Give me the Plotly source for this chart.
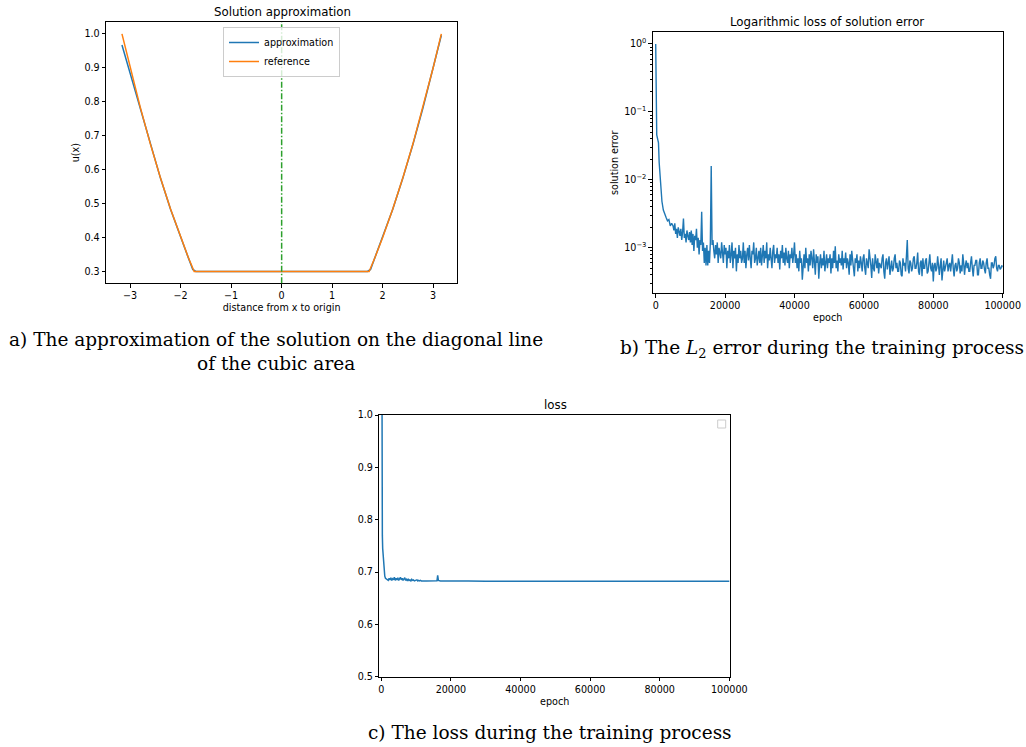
import plotly.graph_objects as go

# ---------------- data: (a) solution on the diagonal ----------------
ref_x = [-3.162, -3.0, -2.8, -2.6, -2.4, -2.2, -2.0, -1.85, -1.732,
         1.732, 1.85, 2.0, 2.2, 2.4, 2.6, 2.8, 3.0, 3.162]
ref_u = [1.0, 0.9, 0.784, 0.676, 0.576, 0.484, 0.4, 0.342, 0.3,
         0.3, 0.342, 0.4, 0.484, 0.576, 0.676, 0.784, 0.9, 1.0]

apx_x = [-3.162, -3.0, -2.8, -2.6, -2.4, -2.2, -2.0, -1.85, -1.76, -1.70,
         0.0, 1.70, 1.76, 1.85, 2.0, 2.2, 2.4, 2.6, 2.8, 3.0, 3.162]
apx_u = [0.967, 0.884, 0.778, 0.674, 0.575, 0.483, 0.399, 0.341, 0.306, 0.300,
         0.300, 0.300, 0.306, 0.342, 0.399, 0.483, 0.575, 0.675, 0.783, 0.898, 0.996]

# ---------------- data: (b) L2 solution error ----------------
err_epoch_early = [0, 100, 300, 500, 800, 1000, 1200, 1500, 1800, 2200, 2600,
                   3000, 3400, 3800, 4200, 4600]
err_early = [1.0, 0.15, 0.046, 0.041, 0.035, 0.018, 0.0118, 0.0065, 0.0048,
             0.0036, 0.0031, 0.0028, 0.0025, 0.0026, 0.0021, 0.0023]
err_epoch_late = list(range(5000, 100001, 250))
# values in units of 1e-4, one every 250 epochs
err_late_e4 = [
    21, 18, 23, 16, 19, 14, 20, 17, 15, 19, 13, 17, 27, 14, 16, 12, 18, 15, 13, 17,
    12, 18, 11, 16, 9, 15, 13, 19, 10, 14, 8, 13, 11, 34, 9, 12, 6, 10, 5.5, 11,
    5.5, 9, 6, 12, 160, 11, 13, 9, 7, 11, 8, 12, 6, 10, 8, 7, 12, 9, 6, 11,
    8, 10, 5, 9, 7, 11, 6, 8, 12, 5, 9, 7, 10, 4.5, 8, 6, 11, 7, 9, 6,
    7, 12, 6, 9, 5, 8, 10, 6.5, 11, 7, 5, 9, 8, 12, 6, 7, 10, 5.5, 8, 9,
    6, 10, 5.5, 8, 11, 6, 9, 7, 12, 5, 8, 6.5, 10, 7, 5, 9, 11, 6, 8, 7,
    10, 6, 8, 4.8, 9, 7, 11, 6, 8.5, 5.5, 10, 7, 6, 9, 5, 8, 7, 10, 6, 8,
    12, 6, 8, 5, 7, 4.5, 9, 6, 7, 3.4, 6.5, 8, 5, 10, 6, 7, 4.5, 8, 5.5, 9,
    7, 5, 9.5, 6, 4, 8, 6, 7.5, 3.5, 6, 8, 5, 7, 5.5, 9, 4.5, 6, 8, 5, 7,
    6, 8, 4.2, 7, 5, 9, 6, 10.5, 5, 6.5, 4.5, 8, 6, 7, 5.5, 9, 4.8, 7, 6, 8.5,
    5, 7, 6, 4, 8, 5.5, 9, 6, 5, 3.8, 7, 6, 8, 4.5, 6.5, 5, 7.5, 6, 4.5, 7,
    8, 5, 4, 7, 6, 5, 9.5, 6, 5.5, 3.6, 7, 5, 4.5, 8, 6, 5, 7, 4.2, 6, 5.5,
    5, 7, 8, 4.5, 3.5, 6, 7, 4.8, 6, 7.5, 4, 5.5, 6.5, 4.5, 5, 7, 8, 5, 6, 4.5,
    4.5, 6.5, 6, 4, 3.8, 7, 5.5, 6, 4.5, 7.5, 13, 5, 4.2, 6.5, 6, 4.5, 5, 7, 7.5, 5,
    5, 6, 8.5, 4.5, 4, 6, 6.5, 3.8, 7, 5, 5, 6.5, 7, 4.2, 4.5, 6, 8, 5, 4.5, 6,
    3.2, 5.5, 6, 4.5, 5, 7.5, 6, 4, 5.5, 7, 3.3, 5, 6.5, 4.5, 5, 6, 7, 4.5, 5.5, 6,
    4.5, 6, 8, 5, 3.8, 5.5, 6, 4.5, 5, 7, 6, 4.2, 5.5, 4.5, 8, 6, 4, 5.5, 6.5, 5,
    6, 4.5, 4.5, 6, 7.5, 5, 3.8, 5.5, 5.5, 6.5, 6.5, 4, 4, 6, 7, 5, 5, 6.5, 6, 4.8,
    4.2, 6, 7, 5, 5, 4, 3.5, 6, 6, 5, 5.5, 7, 7.5, 5, 4.5, 5.5, 5.5, 4.8, 5, 5.5,
    5.2,
]
err_epoch = err_epoch_early + err_epoch_late
err_vals = err_early + [v * 1e-4 for v in err_late_e4]

# ---------------- data: (c) training loss ----------------
loss_epoch_early = [0, 100, 200, 300, 400, 600, 800, 1000, 1200, 1500]
loss_early = [1.6, 1.05, 0.85, 0.77, 0.745, 0.72, 0.70, 0.692, 0.688, 0.686]
loss_epoch_mid = list(range(2000, 12001, 250))
loss_mid = [0.684, 0.688, 0.685, 0.689, 0.684, 0.687, 0.685, 0.690, 0.684, 0.688,
            0.685, 0.689, 0.684, 0.687, 0.690, 0.685, 0.688, 0.684, 0.686, 0.689,
            0.684, 0.686, 0.683, 0.687, 0.684, 0.685, 0.683, 0.686, 0.684, 0.685,
            0.683, 0.684, 0.6835, 0.685, 0.683, 0.684, 0.6832, 0.684, 0.683, 0.6835, 0.683]
loss_epoch_late = [13000, 14000, 15000, 16000, 16200, 16400, 17000, 18000, 20000,
                   25000, 30000, 40000, 50000, 60000, 70000, 80000, 90000, 100000]
loss_late = [0.6830, 0.6832, 0.6829, 0.6831, 0.6935, 0.6840, 0.6830, 0.6828, 0.6827,
             0.6828, 0.6826, 0.6826, 0.6825, 0.6825, 0.6825, 0.6825, 0.6825, 0.6825]
loss_epoch = loss_epoch_early + loss_epoch_mid + loss_epoch_late
loss_vals = loss_early + loss_mid + loss_late

# ---------------- text ----------------
titles = ["Solution approximation", "Logarithmic loss of solution error", "loss"]
captions = ["a) The approximation of the solution on the diagonal line<br>of the cubic area",
            "b) The <i>L</i><sub>2</sub> error during the training process",
            "c) The loss during the training process"]
log_tickvals = [1, 0.1, 0.01, 0.001]
log_ticktext = ["10<sup>0</sup>", "10<sup>\u22121</sup>", "10<sup>\u22122</sup>", "10<sup>\u22123</sup>"]

BLUE = "#1f77b4"
ORANGE = "#ff7f0e"
GREEN = "#2ca02c"
W, H = 1026, 747
TICKFONT = dict(family="DejaVu Sans", size=9.6, color="black")
SANS = "DejaVu Sans"
SERIF = "DejaVu Serif"

fig = go.Figure()
fig.add_trace(go.Scatter(x=apx_x, y=apx_u, mode="lines", name="approximation",
                         line=dict(color=BLUE, width=1.5), xaxis="x", yaxis="y"))
fig.add_trace(go.Scatter(x=ref_x, y=ref_u, mode="lines", name="reference",
                         line=dict(color=ORANGE, width=1.5), xaxis="x", yaxis="y"))
fig.add_trace(go.Scatter(x=err_epoch, y=err_vals, mode="lines", showlegend=False,
                         line=dict(color=BLUE, width=1.4), xaxis="x2", yaxis="y2"))
fig.add_trace(go.Scatter(x=loss_epoch, y=loss_vals, mode="lines", showlegend=False,
                         line=dict(color=BLUE, width=1.5), xaxis="x3", yaxis="y3"))


def ax(**kw):
    base = dict(showline=True, linecolor="black", linewidth=0.8, mirror=True,
                ticks="outside", ticklen=3.5, tickwidth=0.8, tickcolor="black",
                showgrid=False, zeroline=False, tickfont=TICKFONT, automargin=False)
    base.update(kw)
    return base


def px_x(p):
    return p / W


def px_y(p):
    return 1 - p / H


fig.update_layout(
    width=W, height=H, margin=dict(l=0, r=0, t=0, b=0, autoexpand=False),
    paper_bgcolor="white", plot_bgcolor="white",
    font=dict(family=SANS, color="black"),
    xaxis=ax(domain=[px_x(106), px_x(457.3)], range=[-3.478, 3.478], anchor="y",
             tickvals=[-3, -2, -1, 0, 1, 2, 3],
             title=dict(text="distance from x to origin", font=dict(size=9.6), standoff=4)),
    yaxis=ax(domain=[px_y(283.3), px_y(22)], range=[0.265, 1.035], anchor="x",
             dtick=0.1, tick0=0.3, tickformat=".1f",
             title=dict(text="u(x)", font=dict(size=9.6), standoff=3)),
    xaxis2=ax(domain=[px_x(652.7), px_x(1002.7)], range=[-865, 100000], anchor="y2",
              tickvals=[0, 20000, 40000, 60000, 80000, 100000], tickformat="d",
              title=dict(text="epoch", font=dict(size=9.6), standoff=4)),
    yaxis2=ax(domain=[px_y(293.3), px_y(32.3)], type="log", range=[-3.67, 0.172],
              anchor="x2", tickvals=log_tickvals, ticktext=log_ticktext,
              minor=dict(ticks="outside", ticklen=2, tickwidth=0.6, tickcolor="black",
                         dtick="D1", showgrid=False),
              title=dict(text="solution error", font=dict(size=9.6), standoff=3)),
    xaxis3=ax(domain=[px_x(379.3), px_x(730)], range=[-575, 100200], anchor="y3",
              tickvals=[0, 20000, 40000, 60000, 80000, 100000], tickformat="d",
              title=dict(text="epoch", font=dict(size=9.6), standoff=4)),
    yaxis3=ax(domain=[px_y(676.7), px_y(415)], range=[0.5, 1.0], anchor="x3",
              dtick=0.1, tick0=0.5, tickformat=".1f"),
    legend=dict(x=px_x(281.5), y=px_y(27), xanchor="center", yanchor="top",
                bgcolor="rgba(255,255,255,0.8)", bordercolor="#cccccc", borderwidth=1,
                font=dict(family=SANS, size=9.6, color="black"),
                itemwidth=30, tracegroupgap=0),
    shapes=[
        dict(type="line", xref="x", yref="y domain", x0=0, x1=0, y0=0, y1=1,
             line=dict(color=GREEN, width=1.5, dash="6px,2px,1.5px,2px")),
        dict(type="rect", xref="paper", yref="paper",
             x0=px_x(717.7), x1=px_x(725.7), y0=px_y(428), y1=px_y(420),
             line=dict(color="#cccccc", width=1), fillcolor="white"),
    ],
)

anns = []
title_pos = [(282, 12), (827, 22), (555, 405)]
for t, (cx, cy) in zip(titles, title_pos):
    anns.append(dict(text=t, xref="paper", yref="paper", x=px_x(cx), y=px_y(cy),
                     xanchor="center", yanchor="middle", showarrow=False,
                     font=dict(family=SANS, size=11.8, color="black")))
cap_pos = [(276, 351), (822, 349), (549.5, 732)]
for t, (cx, cy) in zip(captions, cap_pos):
    anns.append(dict(text=t, xref="paper", yref="paper", x=px_x(cx), y=px_y(cy),
                     xanchor="center", yanchor="middle", showarrow=False,
                     font=dict(family=SERIF, size=18.5, color="black")))
fig.update_layout(annotations=anns)

fig.write_html("out.html", config={"displayModeBar": False},
               post_script="document.body.style.margin='0';document.body.style.overflow='hidden';")
